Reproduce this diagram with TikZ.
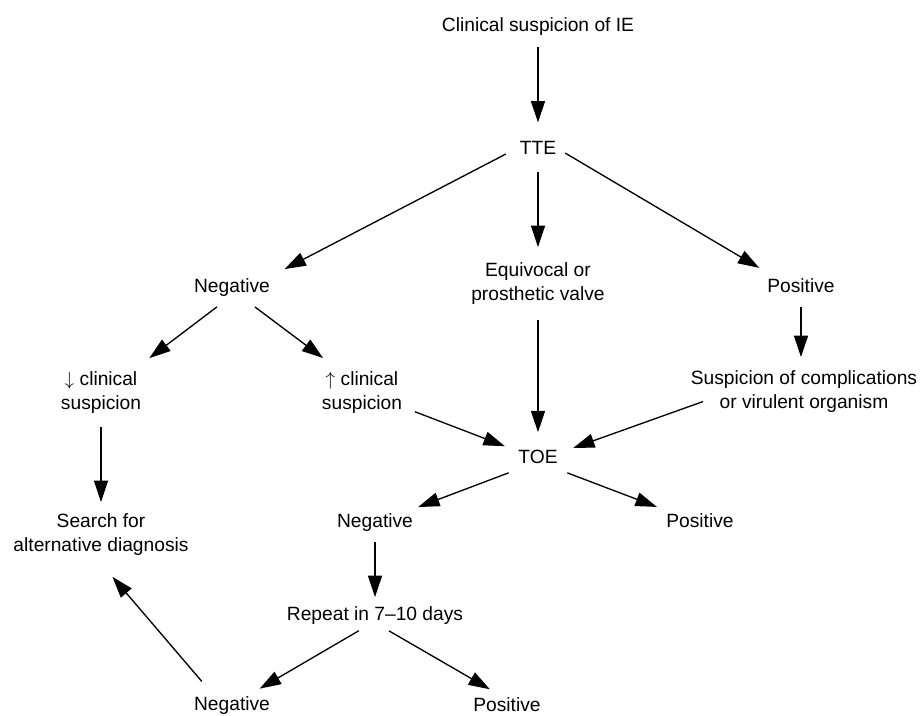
\documentclass[tikz,border=0pt]{standalone}
\usepackage{fontspec}
\setmainfont{Liberation Sans}
\usetikzlibrary{arrows.meta}
\tikzset{
	flowText/.style={inner sep=0pt, outer sep=0pt, align=center, font=\fontsize{14.4pt}{18pt}\selectfont},
	flowArrow/.style={line width=1pt, -{Triangle[length=16pt, width=10.5pt]}},
}

\begin{document}
\begin{tikzpicture}[x=0.75pt, y=-0.75pt]
	\useasboundingbox (0,0) rectangle (922,715);

	% --- Einstieg und TTE ---
	\node[flowText] (ie) at (538, 27) {Clinical suspicion of IE};
	\node[flowText] (tte) at (538, 148) {TTE};

	% --- Ergebnisse der TTE ---
	\node[flowText] (neg1) at (232, 288) {Negative};
	\node[flowText] (equiv) at (538, 284) {Equivocal or\\prosthetic valve};
	\node[flowText] (pos1) at (801, 286) {Positive};
	\node[flowText] (down) at (101, 393) {$\downarrow$ clinical\\suspicion};
	\node[flowText] (up) at (362, 393) {$\uparrow$ clinical\\suspicion};
	\node[flowText] (susp) at (804, 392) {Suspicion of complications\\or virulent organism};

	% --- TOE und Folgeschritte ---
	\node[flowText] (toe) at (538, 457) {TOE};
	\node[flowText] (search) at (101, 535) {Search for\\alternative diagnosis};
	\node[flowText] (neg2) at (375, 523) {Negative};
	\node[flowText] (pos2) at (700, 521) {Positive};
	\node[flowText] (rep) at (375, 616) {Repeat in 7--10 days};
	\node[flowText] (neg3) at (232, 706) {Negative};
	\node[flowText] (pos3) at (507, 705) {Positive};

	% --- Pfeile ---
	\draw[flowArrow, shorten <=8.25pt, shorten >=14.25pt] (ie.south) -- (tte.north);
	\draw[flowArrow, shorten <=11.9pt, shorten >=16.2pt] (tte.176) -- (neg1.15);
	\draw[flowArrow, shorten <=12.75pt, shorten >=12pt] (tte.south) -- (equiv.north);
	\draw[flowArrow, shorten <=7.9pt, shorten >=16.3pt] (tte.1) -- (pos1.163);
	\draw[flowArrow, shorten <=10.5pt, shorten >=10.5pt] (pos1.south) -- (pos1.south |- susp.north);
	\draw[flowArrow, shorten <=12.4pt, shorten >=17.3pt] (neg1.258) -- (down.35);
	\draw[flowArrow, shorten <=12.5pt, shorten >=17.5pt] (neg1.317) -- (up.134);
	\draw[flowArrow, shorten <=9.75pt, shorten >=9pt] (down.south) -- (search.north);
	\draw[flowArrow, shorten <=10.4pt, shorten >=10.9pt] (up.341) -- (toe.164);
	\draw[flowArrow, shorten <=11.25pt, shorten >=13.5pt] (equiv.south) -- (toe.north);
	\draw[flowArrow, shorten <=-9.6pt, shorten >=12.4pt] (susp.187) -- (toe.10);
	\draw[flowArrow, shorten <=19.1pt, shorten >=14.9pt] (toe.231) -- (neg2.20);
	\draw[flowArrow, shorten <=19.1pt, shorten >=14.9pt] (toe.309) -- (pos2.164);
	\draw[flowArrow, shorten <=7.5pt, shorten >=7.5pt] (neg2.south) -- (rep.north);
	\draw[flowArrow, shorten <=8.6pt, shorten >=12.5pt] (rep.235) -- (neg3.34);
	\draw[flowArrow, shorten <=8.8pt, shorten >=13pt] (rep.293) -- (pos3.107);
	\draw[flowArrow, shorten <=15.5pt, shorten >=20.6pt] (neg3.152) -- (search.253);
\end{tikzpicture}
\end{document}
